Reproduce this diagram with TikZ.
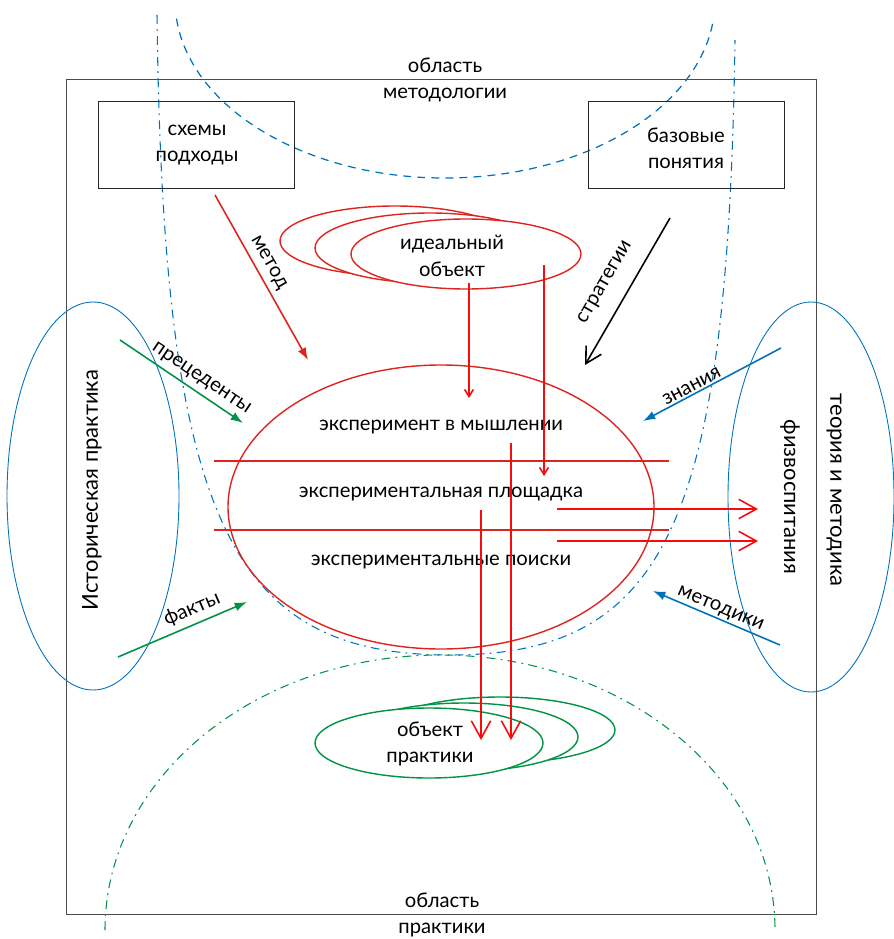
\documentclass[tikz,border=0pt]{standalone}
\usepackage{fontspec}
\setmainfont{Lato}
\usetikzlibrary{arrows.meta}
\definecolor{ovred}{RGB}{222,36,30}
\definecolor{arred}{RGB}{250,10,10}
\definecolor{ovblue}{RGB}{0,114,188}
\definecolor{ovgreen}{RGB}{0,146,69}

\begin{document}
\begin{tikzpicture}[x=0.02cm,y=-0.02cm]
	\useasboundingbox (0,0) rectangle (893,939);
	\tikzset{txt/.style={font=\fontsize{11.5}{15}\selectfont, align=center, inner sep=1pt},
		dashdot/.style={dash pattern=on 5pt off 3pt on 1pt off 3pt}}
	% frame and areas
	\draw [black!70, line width=0.5pt] (66,79) rectangle (816,914);
	\draw [ovblue, line width=0.7pt, dash pattern=on 4.5pt off 3.5pt]
		(445,0) ++(174:270 and 178) arc[start angle=174, end angle=6, x radius=270, y radius=178];
	\draw [ovblue, line width=0.6pt, dashdot] (157,15) .. controls (163,520) and (230,655) .. (450,655)
		.. controls (668,655) and (728,520) .. (735,40);
	\draw [ovgreen, line width=0.6pt, dashdot]
		(105,930) arc[start angle=180, end angle=360, x radius=335, y radius=275];
	% boxes
	\begin{scope}[every node/.style={txt}]
		\draw [black!85, line width=0.5pt] (98,101) rectangle (294,188);
		\draw [black!85, line width=0.5pt] (588,101) rectangle (784,188);
		\node (shemy) at (197,145) {схемы\\подходы};
		\node (bazovye) at (686,148) {базовые\\понятия};
		\node (metodologia) at (445,80) {область\\методологии};
		\node (praktika) at (442,915) {область\\практики};
	\end{scope}
	% ideal object
	\begin{scope}[ovred, line width=0.8pt, fill=white]
		\filldraw (395,241) ellipse[x radius=115, y radius=35];
		\filldraw (430,248) ellipse[x radius=115, y radius=35];
		\filldraw (466,254) ellipse[x radius=115, y radius=35];
	\end{scope}
	\node [txt] (ideal) at (452,256) {идеальный\\объект};
	% experiment
	\draw [ovred, line width=0.8pt] (441,507) ellipse[x radius=213, y radius=142];
	\draw [ovred, line width=0.9pt] (214,461) -- (669,461);
	\draw [ovred, line width=0.9pt] (214,530) -- (669,530);
	\begin{scope}[every node/.style={txt}]
		\node (myshl) at (441,427) {эксперимент  в  мышлении};
		\node (plosh) at (441,494) {экспериментальная  площадка};
		\node (poisk) at (441,562) {экспериментальные  поиски};
	\end{scope}
	% object of practice
	\begin{scope}[ovgreen, line width=0.8pt, fill=white]
		\filldraw (500,730) ellipse[x radius=115, y radius=33];
		\filldraw (464,737) ellipse[x radius=114, y radius=34];
		\filldraw (429,743) ellipse[x radius=114, y radius=35];
	\end{scope}
	\node [txt] (obpr) at (430,744) {объект\\практики};
	% side fields
	\draw [ovblue, line width=0.5pt] (93,496) ellipse[x radius=86, y radius=194];
	\draw [ovblue, line width=0.5pt] (811,497) ellipse[x radius=83, y radius=195];
	\node [txt, rotate=90, font=\fontsize{12.5}{15}\selectfont] (istor) at (92,490) {Историческая  практика};
	\node [txt, rotate=-90, font=\fontsize{12.5}{15}\selectfont] (teoria) at (834,490) {теория  и  методика};
	\node [txt, rotate=-90, font=\fontsize{12.5}{15}\selectfont] (fizv) at (790,497) {физвоспитания};
	% arrow ends
	\coordinate (metodA) at (215,195);   \coordinate (metodB) at (308,360);
	\coordinate (stratA) at (670,218);   \coordinate (stratB) at (585,365);
	\coordinate (precA) at (120,340);    \coordinate (precB) at (243,423);
	\coordinate (faktA) at (118,657);    \coordinate (faktB) at (247,602);
	\coordinate (znanA) at (781,348);    \coordinate (znanB) at (643,421);
	\coordinate (metkA) at (780,645);    \coordinate (metkB) at (653,591);
	\begin{scope}[every node/.style={txt, text=black, sloped, above, inner sep=3pt},
			filled/.style={-{Latex[length=7pt,width=5pt]}, line width=0.9pt}]
		\draw [filled, ovred] (metodA) -- node[pos=0.45] {метод} (metodB);
		\draw [-{Straight Barb[length=9pt,width=10pt]}, line width=0.9pt] (stratA) -- node[pos=0.52, above=6pt] {стратегии} (stratB);
		\draw [filled, ovgreen] (precA) -- node[pos=0.6] {прецеденты} (precB);
		\draw [filled, ovgreen] (faktA) -- node[pos=0.62] {факты} (faktB);
		\draw [filled, ovblue] (znanA) -- node[pos=0.62, inner sep=1pt] {знания} (znanB);
		\draw [filled, ovblue] (metkA) -- node[pos=0.5, inner sep=1pt] {методики} (metkB);
	\end{scope}
	% red flows
	\begin{scope}[arred, line width=0.9pt]
		\draw [-{Straight Barb[length=4pt,width=5pt]}] (469,283) -- (469,398);
		\draw [-{Straight Barb[length=4pt,width=5pt]}] (544,265) -- (544,476);
		\draw [-{Straight Barb[length=10pt,width=11pt]}] (481,510) -- (481,740);
		\draw [-{Straight Barb[length=10pt,width=11pt]}] (511,443) -- (511,740);
		\draw [-{Straight Barb[length=10pt,width=11pt]}] (557,509) -- (758,509);
		\draw [-{Straight Barb[length=10pt,width=11pt]}] (557,541) -- (758,541);
	\end{scope}
\end{tikzpicture}
\end{document}
